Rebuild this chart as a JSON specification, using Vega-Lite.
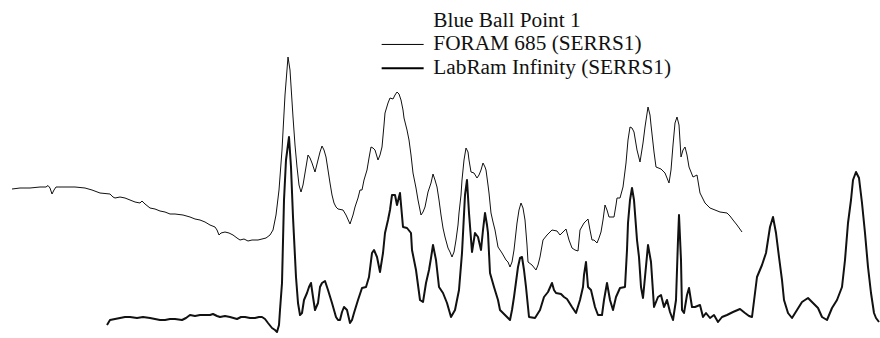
{
  "$schema": "https://vega.github.io/schema/vega-lite/v6.json",
  "width": 880,
  "height": 338,
  "padding": 0,
  "autosize": {"type": "fit", "contains": "padding"},
  "config": {"view": {"stroke": null}},
  "data": {"values": [
      {"s":"F","x":12,"y":149},{"s":"F","x":20,"y":150},{"s":"F","x":30,"y":150},{"s":"F","x":40,"y":151},{"s":"F","x":46,"y":151},{"s":"F","x":48,"y":152.5},{"s":"F","x":50,"y":150},{"s":"F","x":52,"y":144},{"s":"F","x":54,"y":148},{"s":"F","x":56,"y":151},{"s":"F","x":65,"y":151},{"s":"F","x":75,"y":151},{"s":"F","x":85,"y":150},{"s":"F","x":92,"y":148},{"s":"F","x":100,"y":145},{"s":"F","x":110,"y":144},{"s":"F","x":113,"y":141},{"s":"F","x":115,"y":140},{"s":"F","x":120,"y":141},{"s":"F","x":125,"y":140},{"s":"F","x":130,"y":138},{"s":"F","x":135,"y":136},{"s":"F","x":140,"y":135},{"s":"F","x":142,"y":137},{"s":"F","x":145,"y":134},{"s":"F","x":150,"y":130},{"s":"F","x":155,"y":129},{"s":"F","x":160,"y":127},{"s":"F","x":165,"y":126},{"s":"F","x":170,"y":124},{"s":"F","x":175,"y":124},{"s":"F","x":183,"y":123},{"s":"F","x":190,"y":121},{"s":"F","x":195,"y":119},{"s":"F","x":200,"y":118},{"s":"F","x":205,"y":116},{"s":"F","x":210,"y":113},{"s":"F","x":215,"y":111},{"s":"F","x":217,"y":108},{"s":"F","x":219,"y":103},{"s":"F","x":221,"y":105},{"s":"F","x":225,"y":106},{"s":"F","x":229,"y":105},{"s":"F","x":233,"y":103},{"s":"F","x":237,"y":100},{"s":"F","x":240,"y":98},{"s":"F","x":244,"y":99},{"s":"F","x":248,"y":97},{"s":"F","x":252,"y":98},{"s":"F","x":258,"y":98},{"s":"F","x":262,"y":99},{"s":"F","x":266,"y":100},{"s":"F","x":270,"y":103},{"s":"F","x":273,"y":108},{"s":"F","x":276,"y":123},{"s":"F","x":279,"y":148},{"s":"F","x":282,"y":188},{"s":"F","x":285,"y":243},{"s":"F","x":288,"y":281},{"s":"F","x":290,"y":268},{"s":"F","x":293,"y":221},{"s":"F","x":295,"y":193},{"s":"F","x":297,"y":171},{"s":"F","x":299,"y":153},{"s":"F","x":301,"y":146},{"s":"F","x":303,"y":153},{"s":"F","x":305,"y":165},{"s":"F","x":308,"y":183},{"s":"F","x":310,"y":180},{"s":"F","x":312,"y":175},{"s":"F","x":315,"y":166},{"s":"F","x":318,"y":178},{"s":"F","x":320,"y":186},{"s":"F","x":322,"y":192},{"s":"F","x":324,"y":188},{"s":"F","x":326,"y":181},{"s":"F","x":328,"y":168},{"s":"F","x":330,"y":155},{"s":"F","x":332,"y":143},{"s":"F","x":334,"y":135},{"s":"F","x":336,"y":131},{"s":"F","x":338,"y":129},{"s":"F","x":343,"y":128},{"s":"F","x":346,"y":123},{"s":"F","x":350,"y":114},{"s":"F","x":353,"y":123},{"s":"F","x":355,"y":131},{"s":"F","x":358,"y":140},{"s":"F","x":360,"y":148},{"s":"F","x":362,"y":148},{"s":"F","x":364,"y":158},{"s":"F","x":367,"y":168},{"s":"F","x":369,"y":180},{"s":"F","x":371,"y":191},{"s":"F","x":373,"y":190},{"s":"F","x":375,"y":188},{"s":"F","x":378,"y":178},{"s":"F","x":380,"y":183},{"s":"F","x":382,"y":191},{"s":"F","x":384,"y":213},{"s":"F","x":385,"y":225},{"s":"F","x":388,"y":235},{"s":"F","x":390,"y":240},{"s":"F","x":393,"y":239},{"s":"F","x":395,"y":243},{"s":"F","x":397,"y":246},{"s":"F","x":399,"y":244},{"s":"F","x":401,"y":238},{"s":"F","x":403,"y":228},{"s":"F","x":404,"y":220},{"s":"F","x":407,"y":208},{"s":"F","x":409,"y":198},{"s":"F","x":411,"y":183},{"s":"F","x":413,"y":165},{"s":"F","x":416,"y":150},{"s":"F","x":418,"y":138},{"s":"F","x":421,"y":123},{"s":"F","x":423,"y":126},{"s":"F","x":425,"y":131},{"s":"F","x":428,"y":146},{"s":"F","x":431,"y":155},{"s":"F","x":433,"y":164},{"s":"F","x":435,"y":158},{"s":"F","x":437,"y":151},{"s":"F","x":439,"y":138},{"s":"F","x":441,"y":123},{"s":"F","x":443,"y":110},{"s":"F","x":445,"y":101},{"s":"F","x":448,"y":90},{"s":"F","x":450,"y":86},{"s":"F","x":452,"y":81},{"s":"F","x":454,"y":86},{"s":"F","x":456,"y":98},{"s":"F","x":458,"y":113},{"s":"F","x":459,"y":125},{"s":"F","x":461,"y":143},{"s":"F","x":462,"y":158},{"s":"F","x":464,"y":178},{"s":"F","x":466,"y":190},{"s":"F","x":468,"y":186},{"s":"F","x":469,"y":178},{"s":"F","x":471,"y":166},{"s":"F","x":474,"y":165},{"s":"F","x":477,"y":160},{"s":"F","x":479,"y":163},{"s":"F","x":481,"y":168},{"s":"F","x":483,"y":175},{"s":"F","x":485,"y":171},{"s":"F","x":486,"y":168},{"s":"F","x":488,"y":153},{"s":"F","x":489,"y":145},{"s":"F","x":491,"y":125},{"s":"F","x":493,"y":116},{"s":"F","x":495,"y":108},{"s":"F","x":498,"y":91},{"s":"F","x":502,"y":85},{"s":"F","x":506,"y":78},{"s":"F","x":508,"y":76},{"s":"F","x":510,"y":71},{"s":"F","x":512,"y":76},{"s":"F","x":514,"y":88},{"s":"F","x":517,"y":115},{"s":"F","x":519,"y":128},{"s":"F","x":521,"y":135},{"s":"F","x":523,"y":130},{"s":"F","x":525,"y":118},{"s":"F","x":527,"y":93},{"s":"F","x":528,"y":76},{"s":"F","x":532,"y":73},{"s":"F","x":536,"y":68},{"s":"F","x":538,"y":73},{"s":"F","x":540,"y":81},{"s":"F","x":543,"y":98},{"s":"F","x":547,"y":103},{"s":"F","x":552,"y":108},{"s":"F","x":557,"y":107},{"s":"F","x":560,"y":103},{"s":"F","x":563,"y":106},{"s":"F","x":566,"y":109},{"s":"F","x":569,"y":98},{"s":"F","x":572,"y":90},{"s":"F","x":575,"y":88},{"s":"F","x":578,"y":87},{"s":"F","x":580,"y":108},{"s":"F","x":584,"y":115},{"s":"F","x":588,"y":119},{"s":"F","x":590,"y":108},{"s":"F","x":592,"y":98},{"s":"F","x":594,"y":98},{"s":"F","x":597,"y":95},{"s":"F","x":599,"y":100},{"s":"F","x":601,"y":106},{"s":"F","x":603,"y":118},{"s":"F","x":605,"y":133},{"s":"F","x":607,"y":128},{"s":"F","x":609,"y":121},{"s":"F","x":614,"y":121},{"s":"F","x":616,"y":133},{"s":"F","x":617,"y":140},{"s":"F","x":620,"y":140},{"s":"F","x":623,"y":151},{"s":"F","x":626,"y":175},{"s":"F","x":628,"y":198},{"s":"F","x":630,"y":211},{"s":"F","x":632,"y":210},{"s":"F","x":634,"y":206},{"s":"F","x":637,"y":188},{"s":"F","x":640,"y":176},{"s":"F","x":643,"y":195},{"s":"F","x":645,"y":211},{"s":"F","x":648,"y":231},{"s":"F","x":650,"y":223},{"s":"F","x":651,"y":213},{"s":"F","x":654,"y":186},{"s":"F","x":656,"y":171},{"s":"F","x":661,"y":169},{"s":"F","x":665,"y":165},{"s":"F","x":667,"y":160},{"s":"F","x":669,"y":155},{"s":"F","x":671,"y":168},{"s":"F","x":673,"y":193},{"s":"F","x":675,"y":215},{"s":"F","x":677,"y":221},{"s":"F","x":679,"y":213},{"s":"F","x":681,"y":181},{"s":"F","x":683,"y":188},{"s":"F","x":685,"y":191},{"s":"F","x":687,"y":183},{"s":"F","x":689,"y":171},{"s":"F","x":693,"y":161},{"s":"F","x":697,"y":163},{"s":"F","x":700,"y":145},{"s":"F","x":705,"y":135},{"s":"F","x":710,"y":130},{"s":"F","x":715,"y":128},{"s":"F","x":720,"y":126},{"s":"F","x":727,"y":125},{"s":"F","x":730,"y":122},{"s":"F","x":733,"y":118},{"s":"F","x":737,"y":113},{"s":"F","x":742,"y":106},
      {"s":"L","x":107,"y":13},{"s":"L","x":110,"y":18},{"s":"L","x":115,"y":19},{"s":"L","x":120,"y":20},{"s":"L","x":125,"y":21},{"s":"L","x":130,"y":21},{"s":"L","x":137,"y":20},{"s":"L","x":143,"y":21},{"s":"L","x":150,"y":20},{"s":"L","x":155,"y":19},{"s":"L","x":160,"y":18},{"s":"L","x":165,"y":18},{"s":"L","x":170,"y":19},{"s":"L","x":175,"y":19},{"s":"L","x":182,"y":18},{"s":"L","x":186,"y":20},{"s":"L","x":190,"y":23},{"s":"L","x":195,"y":22},{"s":"L","x":200,"y":23},{"s":"L","x":205,"y":23},{"s":"L","x":210,"y":23},{"s":"L","x":213,"y":24},{"s":"L","x":217,"y":22},{"s":"L","x":220,"y":21},{"s":"L","x":225,"y":22},{"s":"L","x":230,"y":21},{"s":"L","x":237,"y":19},{"s":"L","x":241,"y":21},{"s":"L","x":245,"y":21},{"s":"L","x":250,"y":20},{"s":"L","x":255,"y":20},{"s":"L","x":259,"y":21},{"s":"L","x":262,"y":21},{"s":"L","x":265,"y":19},{"s":"L","x":268,"y":15},{"s":"L","x":272,"y":10},{"s":"L","x":275,"y":8},{"s":"L","x":277,"y":6},{"s":"L","x":279,"y":13},{"s":"L","x":280,"y":28},{"s":"L","x":282,"y":55},{"s":"L","x":284,"y":138},{"s":"L","x":286,"y":178},{"s":"L","x":289,"y":201},{"s":"L","x":291,"y":171},{"s":"L","x":293,"y":121},{"s":"L","x":296,"y":61},{"s":"L","x":298,"y":35},{"s":"L","x":300,"y":23},{"s":"L","x":302,"y":25},{"s":"L","x":304,"y":38},{"s":"L","x":307,"y":45},{"s":"L","x":309,"y":51},{"s":"L","x":311,"y":55},{"s":"L","x":313,"y":41},{"s":"L","x":315,"y":28},{"s":"L","x":318,"y":35},{"s":"L","x":320,"y":51},{"s":"L","x":322,"y":55},{"s":"L","x":325,"y":57},{"s":"L","x":328,"y":48},{"s":"L","x":332,"y":35},{"s":"L","x":336,"y":21},{"s":"L","x":338,"y":18},{"s":"L","x":340,"y":18},{"s":"L","x":342,"y":26},{"s":"L","x":344,"y":31},{"s":"L","x":347,"y":28},{"s":"L","x":350,"y":15},{"s":"L","x":352,"y":18},{"s":"L","x":354,"y":25},{"s":"L","x":358,"y":38},{"s":"L","x":360,"y":44},{"s":"L","x":362,"y":50},{"s":"L","x":366,"y":51},{"s":"L","x":369,"y":61},{"s":"L","x":372,"y":85},{"s":"L","x":374,"y":88},{"s":"L","x":377,"y":81},{"s":"L","x":380,"y":66},{"s":"L","x":383,"y":85},{"s":"L","x":385,"y":105},{"s":"L","x":388,"y":118},{"s":"L","x":390,"y":128},{"s":"L","x":392,"y":143},{"s":"L","x":395,"y":143},{"s":"L","x":397,"y":133},{"s":"L","x":400,"y":145},{"s":"L","x":403,"y":111},{"s":"L","x":407,"y":110},{"s":"L","x":411,"y":105},{"s":"L","x":412,"y":88},{"s":"L","x":416,"y":68},{"s":"L","x":420,"y":38},{"s":"L","x":423,"y":36},{"s":"L","x":426,"y":55},{"s":"L","x":429,"y":68},{"s":"L","x":431,"y":80},{"s":"L","x":433,"y":93},{"s":"L","x":436,"y":78},{"s":"L","x":439,"y":51},{"s":"L","x":443,"y":45},{"s":"L","x":447,"y":35},{"s":"L","x":451,"y":21},{"s":"L","x":455,"y":28},{"s":"L","x":459,"y":48},{"s":"L","x":462,"y":85},{"s":"L","x":465,"y":143},{"s":"L","x":467,"y":158},{"s":"L","x":469,"y":125},{"s":"L","x":472,"y":86},{"s":"L","x":475,"y":105},{"s":"L","x":478,"y":101},{"s":"L","x":481,"y":88},{"s":"L","x":483,"y":108},{"s":"L","x":485,"y":125},{"s":"L","x":487,"y":113},{"s":"L","x":488,"y":105},{"s":"L","x":490,"y":65},{"s":"L","x":494,"y":51},{"s":"L","x":498,"y":38},{"s":"L","x":500,"y":28},{"s":"L","x":505,"y":23},{"s":"L","x":510,"y":18},{"s":"L","x":512,"y":28},{"s":"L","x":514,"y":41},{"s":"L","x":518,"y":71},{"s":"L","x":520,"y":80},{"s":"L","x":522,"y":81},{"s":"L","x":524,"y":68},{"s":"L","x":526,"y":51},{"s":"L","x":529,"y":21},{"s":"L","x":535,"y":20},{"s":"L","x":540,"y":28},{"s":"L","x":544,"y":41},{"s":"L","x":548,"y":46},{"s":"L","x":552,"y":55},{"s":"L","x":554,"y":48},{"s":"L","x":556,"y":45},{"s":"L","x":561,"y":44},{"s":"L","x":564,"y":41},{"s":"L","x":567,"y":39},{"s":"L","x":572,"y":31},{"s":"L","x":576,"y":25},{"s":"L","x":580,"y":38},{"s":"L","x":583,"y":51},{"s":"L","x":584,"y":63},{"s":"L","x":586,"y":76},{"s":"L","x":588,"y":51},{"s":"L","x":591,"y":48},{"s":"L","x":595,"y":31},{"s":"L","x":598,"y":23},{"s":"L","x":602,"y":23},{"s":"L","x":604,"y":38},{"s":"L","x":607,"y":55},{"s":"L","x":610,"y":38},{"s":"L","x":613,"y":28},{"s":"L","x":616,"y":41},{"s":"L","x":620,"y":50},{"s":"L","x":625,"y":51},{"s":"L","x":627,"y":88},{"s":"L","x":628,"y":115},{"s":"L","x":630,"y":138},{"s":"L","x":632,"y":150},{"s":"L","x":634,"y":138},{"s":"L","x":637,"y":98},{"s":"L","x":639,"y":81},{"s":"L","x":641,"y":51},{"s":"L","x":643,"y":40},{"s":"L","x":645,"y":61},{"s":"L","x":648,"y":93},{"s":"L","x":651,"y":76},{"s":"L","x":654,"y":31},{"s":"L","x":658,"y":41},{"s":"L","x":661,"y":43},{"s":"L","x":664,"y":31},{"s":"L","x":667,"y":38},{"s":"L","x":670,"y":26},{"s":"L","x":673,"y":18},{"s":"L","x":676,"y":38},{"s":"L","x":678,"y":98},{"s":"L","x":679,"y":123},{"s":"L","x":681,"y":78},{"s":"L","x":682,"y":28},{"s":"L","x":684,"y":25},{"s":"L","x":687,"y":43},{"s":"L","x":689,"y":50},{"s":"L","x":692,"y":31},{"s":"L","x":695,"y":31},{"s":"L","x":700,"y":33},{"s":"L","x":703,"y":21},{"s":"L","x":706,"y":25},{"s":"L","x":710,"y":20},{"s":"L","x":714,"y":23},{"s":"L","x":718,"y":16},{"s":"L","x":722,"y":21},{"s":"L","x":727,"y":23},{"s":"L","x":733,"y":26},{"s":"L","x":740,"y":29},{"s":"L","x":745,"y":25},{"s":"L","x":749,"y":22},{"s":"L","x":752,"y":21},{"s":"L","x":755,"y":45},{"s":"L","x":757,"y":61},{"s":"L","x":762,"y":73},{"s":"L","x":766,"y":85},{"s":"L","x":770,"y":111},{"s":"L","x":773,"y":121},{"s":"L","x":776,"y":105},{"s":"L","x":779,"y":81},{"s":"L","x":782,"y":58},{"s":"L","x":784,"y":38},{"s":"L","x":788,"y":25},{"s":"L","x":792,"y":20},{"s":"L","x":797,"y":28},{"s":"L","x":802,"y":36},{"s":"L","x":808,"y":40},{"s":"L","x":813,"y":35},{"s":"L","x":818,"y":30},{"s":"L","x":822,"y":21},{"s":"L","x":827,"y":18},{"s":"L","x":832,"y":30},{"s":"L","x":837,"y":38},{"s":"L","x":842,"y":51},{"s":"L","x":845,"y":78},{"s":"L","x":848,"y":115},{"s":"L","x":851,"y":138},{"s":"L","x":853,"y":158},{"s":"L","x":856,"y":166},{"s":"L","x":859,"y":160},{"s":"L","x":862,"y":135},{"s":"L","x":865,"y":105},{"s":"L","x":868,"y":71},{"s":"L","x":871,"y":45},{"s":"L","x":874,"y":25},{"s":"L","x":876,"y":20},{"s":"L","x":879,"y":16}
  ]},
  "mark": {"type": "line", "color": "#111111", "strokeJoin": "round"},
  "encoding": {
    "x": {"field": "x", "type": "quantitative", "scale": {"domain": [0, 880]}, "axis": null},
    "y": {"field": "y", "type": "quantitative", "scale": {"domain": [0, 338]}, "axis": null},
    "strokeWidth": {
      "field": "s", "type": "nominal",
      "scale": {"type": "ordinal", "domain": ["T", "F", "L"], "range": [0, 1, 2]},
      "legend": {
        "orient": "none", "legendX": 371, "legendY": 10, "title": null, "padding": 0,
        "values": ["T", "F", "L"],
        "symbolType": "M0,0H42", "symbolSize": 4, "symbolStrokeColor": "black", "symbolFillColor": "transparent",
        "labelFont": "Liberation Serif", "labelFontSize": 21.3, "labelColor": "#111111", "labelLimit": 400,
        "labelOffset": 41, "rowPadding": 1.8,
        "labelExpr": "datum.value == 'T' ? 'Blue Ball Point 1' : datum.value == 'F' ? 'FORAM 685 (SERRS1)' : 'LabRam Infinity (SERRS1)'"
      }
    }
  }
}
